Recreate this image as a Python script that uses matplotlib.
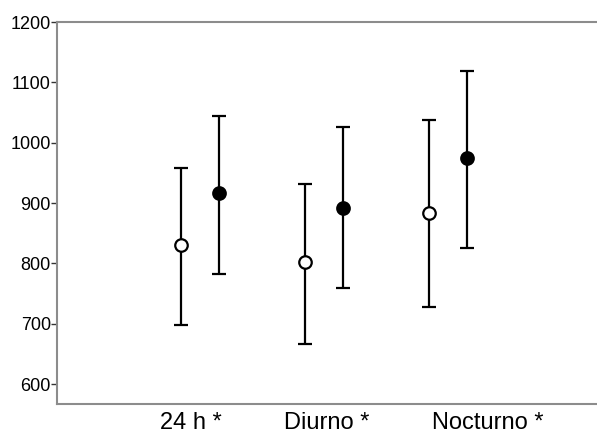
import matplotlib
matplotlib.use("Agg")
import matplotlib.pyplot as plt

plt.rcParams['font.family'] = ['Liberation Sans', 'DejaVu Sans']

categories = ["24 h *", "Diurno *", "Nocturno *"]
open_mean = [830, 802, 884]
open_low = [698, 667, 728]
open_high = [959, 931, 1038]
filled_mean = [916, 892, 975]
filled_low = [783, 759, 826]
filled_high = [1044, 1026, 1119]
y_ticks = [600, 700, 800, 900, 1000, 1100, 1200]

group_x = [1, 2, 3]
offset = 0.31
label_x = [1.08, 2.177, 3.476]

fig = plt.figure(figsize=(5.97, 4.34), dpi=100)
ax = fig.add_axes([0.0955, 0.069, 0.9045, 0.88])

def draw(xs, mean, low, high, face):
    yerr = [[m - l for m, l in zip(mean, low)], [h - m for m, h in zip(mean, high)]]
    ax.errorbar(xs, mean, yerr=yerr, fmt='o', color='black', ecolor='black',
                elinewidth=1.6, capsize=5, capthick=1.6,
                markersize=9, markerfacecolor=face, markeredgecolor='black',
                markeredgewidth=1.6, zorder=3)

draw(group_x, open_mean, open_low, open_high, 'white')
draw([x + offset for x in group_x], filled_mean, filled_low, filled_high, 'black')

ax.set_xlim(0, 4.36)
ax.set_ylim(567, 1200)
ax.set_yticks(y_ticks)
ax.set_yticklabels([str(v) for v in y_ticks], fontsize=13)
ax.set_xticks(label_x)
ax.set_xticklabels(categories, fontsize=17)
ax.tick_params(axis='x', length=0, pad=6)
ax.tick_params(axis='y', length=4, width=1, pad=0.5, color='#333333')

for side in ['left', 'top', 'bottom']:
    ax.spines[side].set_color('#8c8c8c')
    ax.spines[side].set_linewidth(1.5)
ax.spines['right'].set_visible(False)

fig.savefig("out.png", dpi=100)
